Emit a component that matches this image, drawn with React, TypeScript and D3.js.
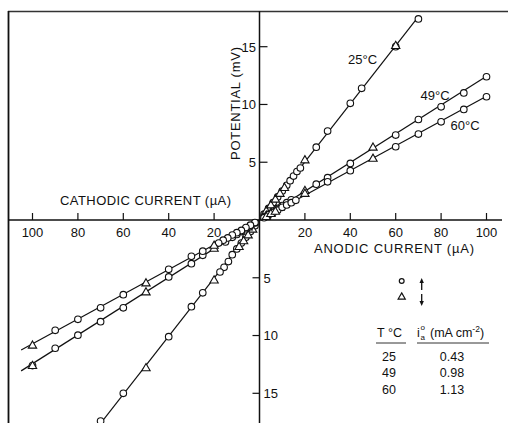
import React from "react";
import * as d3 from "d3";

// Polarization data: current I (µA, cathodic negative) vs potential E (mV).
// "up" = increasing sweep (circles), "down" = decreasing sweep (triangles).
const temps = ["25", "49", "60"];

const up25: [number, number][] = [
  [2, 0.5], [4, 1.0], [6, 1.5], [8, 2.0], [10, 2.5], [12, 3.0], [13.5, 3.4], [15, 3.8],
  [16.5, 4.2], [18, 4.5], [25, 6.3], [30, 7.7], [40, 10.1], [45, 11.4], [60, 15.0], [70, 17.4],
  [-2, -0.5], [-4, -1.0], [-6, -1.5], [-8, -2.0], [-10, -2.5], [-12, -3.0], [-13.7, -3.6],
  [-15.6, -4.1], [-17.4, -4.5], [-25, -6.3], [-30, -7.5], [-40, -10.1], [-60, -15.0], [-70, -17.4],
];
const down25: [number, number][] = [
  [3, 0.8], [5, 1.3], [7, 1.8], [9, 2.3], [11, 2.8], [20, 5.2], [60, 15.1],
  [-3, -0.8], [-5, -1.3], [-7, -1.8], [-9, -2.3], [-20, -5.2], [-50, -12.8],
];

const up49: [number, number][] = [
  [2, 0.3], [4, 0.5], [6, 0.75], [8, 1.0], [10, 1.25], [12, 1.5], [14, 1.75], [25, 3.1],
  [30, 3.66], [40, 4.9], [60, 7.35], [70, 8.7], [80, 9.8], [90, 11.0], [100, 12.4],
  [-2, -0.25], [-4, -0.5], [-6, -0.75], [-8, -1.0], [-10, -1.25], [-12, -1.5], [-15, -1.9],
  [-25, -3.06], [-30, -3.78], [-40, -4.93], [-60, -7.6], [-70, -8.8], [-80, -9.97],
  [-90, -11.1], [-100, -12.6],
];
const down49: [number, number][] = [
  [3, 0.4], [5, 0.6], [7, 0.9], [9, 1.1], [20, 2.55], [50, 6.3],
  [-5, -0.6], [-20, -2.45], [-50, -6.23], [-100, -12.6],
];

const up60: [number, number][] = [
  [2, 0.2], [4, 0.45], [6, 0.65], [8, 0.85], [10, 1.1], [12, 1.3], [14, 1.5], [16, 1.7],
  [30, 3.3], [40, 4.27], [60, 6.34], [70, 7.44], [80, 8.5], [90, 9.57], [100, 10.67],
  [-2, -0.22], [-4, -0.45], [-6, -0.65], [-8, -0.9], [-10, -1.1], [-12, -1.3], [-14, -1.55],
  [-16, -1.75], [-18, -2.0], [-25, -2.7], [-30, -3.14], [-40, -4.27], [-60, -6.46],
  [-70, -7.6], [-80, -8.6], [-90, -9.55],
];
const down60: [number, number][] = [
  [3, 0.3], [5, 0.55], [7, 0.75], [20, 2.3], [50, 5.33],
  [-20, -2.2], [-50, -5.45], [-100, -10.84],
];

// Range over which each fitted line is drawn (µA)
const lineExtent: Record<string, [number, number]> = {
  "25": [-80, 70],
  "49": [-105, 100],
  "60": [-105, 100],
};

const xTicks = [20, 40, 60, 80, 100];
const yTicks = [5, 10, 15];

const tableRows = [
  ["25", "0.43"],
  ["49", "0.98"],
  ["60", "1.13"],
];

const W = 508;
const H = 423;
const FONT = "'Liberation Sans', Arial, sans-serif";

const x = d3.scaleLinear().domain([0, 100]).range([259.5, 486.5]);
const y = d3.scaleLinear().domain([0, 15]).range([220, 46.7]);

// Least-squares slope through the origin
function slopeOf(pts: [number, number][]) {
  const sxy = d3.sum(pts, (p) => p[0] * p[1]);
  const sxx = d3.sum(pts, (p) => p[0] * p[0]);
  return sxy / sxx;
}

const seriesUp: Record<string, [number, number][]> = { "25": up25, "49": up49, "60": up60 };
const seriesDown: Record<string, [number, number][]> = { "25": down25, "49": down49, "60": down60 };

const tri = d3.symbol().type(d3.symbolTriangle).size(30)() as string;
const triSmall = d3.symbol().type(d3.symbolTriangle).size(22)() as string;

const lineGen = d3
  .line<[number, number]>()
  .x((d) => x(d[0]))
  .y((d) => y(d[1]));

function Arrow({ cx, y1, y2 }: { cx: number; y1: number; y2: number }) {
  // arrow from y1 to y2, head at y2
  const dir = y2 < y1 ? -1 : 1;
  const head = `M${cx},${y2} L${cx - 2.2},${y2 - dir * 5} L${cx + 2.2},${y2 - dir * 5} Z`;
  return (
    <g>
      <line x1={cx} y1={y1} x2={cx} y2={y2 - dir * 3} stroke="#111" strokeWidth={1.3} />
      <path d={head} fill="#111" />
    </g>
  );
}

export default function App() {
  return (
    <div style={{ position: "absolute", left: 0, top: 0 }}>
      <svg width={W} height={H} viewBox={`0 0 ${W} ${H}`} style={{ display: "block", background: "#fff" }}>
        <rect x={0} y={0} width={W} height={H} fill="#fff" />
        {/* frame */}
        <line x1={8} y1={11.5} x2={W} y2={11.5} stroke="#333" strokeWidth={1.4} />
        <line x1={8.5} y1={11} x2={8.5} y2={H} stroke="#111" strokeWidth={1.8} />

        {/* axes through origin */}
        <line x1={8} y1={y(0)} x2={W - 6} y2={y(0)} stroke="#111" strokeWidth={1.5} />
        <line x1={x(0)} y1={11} x2={x(0)} y2={H} stroke="#111" strokeWidth={1.5} />

        {/* x ticks (both directions), upward */}
        {xTicks.flatMap((t) => [t, -t]).map((t) => (
          <g key={`xt${t}`}>
            <line x1={x(t)} x2={x(t)} y1={y(0)} y2={y(0) - 7} stroke="#111" strokeWidth={1.2} />
            <text
              x={x(t)}
              y={236.5}
              textAnchor="middle"
              fontFamily={FONT}
              fontSize={13}
              fill="#111"
            >
              {Math.abs(t)}
            </text>
          </g>
        ))}

        {/* y ticks: positive to the right, negative to the left */}
        {yTicks.map((t) => (
          <g key={`yt${t}`}>
            <line x1={x(0)} x2={x(0) + 8} y1={y(t)} y2={y(t)} stroke="#111" strokeWidth={1.2} />
            <text x={256} y={y(t) + 4.8} textAnchor="end" fontFamily={FONT} fontSize={13} fill="#111">
              {t}
            </text>
            <line x1={x(0)} x2={x(0) - 7} y1={y(-t)} y2={y(-t)} stroke="#111" strokeWidth={1.2} />
            <text x={263.5} y={y(-t) + 4.8} textAnchor="start" fontFamily={FONT} fontSize={13} fill="#111">
              {t}
            </text>
          </g>
        ))}

        {/* axis titles */}
        <text x={60} y={205} fontFamily={FONT} fontSize={13} fill="#111" textLength={171} lengthAdjust="spacing">
          CATHODIC CURRENT (µA)
        </text>
        <text x={314} y={253} fontFamily={FONT} fontSize={13} fill="#111" textLength={160} lengthAdjust="spacing">
          ANODIC CURRENT (µA)
        </text>
        <text
          transform="translate(239.5,103.5) rotate(-90)"
          textAnchor="middle"
          fontFamily={FONT}
          fontSize={13}
          fill="#111"
          textLength={113}
          lengthAdjust="spacing"
        >
          POTENTIAL (mV)
        </text>

        {/* fitted lines */}
        {temps.map((t) => {
          const k = slopeOf([...seriesUp[t], ...seriesDown[t]]);
          const [a, b] = lineExtent[t];
          const pts: [number, number][] = [
            [a, k * a],
            [b, k * b],
          ];
          return <path key={`l${t}`} d={lineGen(pts) as string} fill="none" stroke="#111" strokeWidth={1.2} />;
        })}

        {/* markers */}
        {temps.map((t) => (
          <g key={`m${t}`}>
            {seriesUp[t].map((p, i) => (
              <circle
                key={`c${i}`}
                cx={x(p[0])}
                cy={y(p[1])}
                r={3.3}
                fill="#fff"
                stroke="#111"
                strokeWidth={1.1}
              />
            ))}
            {seriesDown[t].map((p, i) => (
              <path
                key={`t${i}`}
                d={tri}
                transform={`translate(${x(p[0])},${y(p[1]) + 0.5})`}
                fill="#fff"
                stroke="#111"
                strokeWidth={1.1}
              />
            ))}
          </g>
        ))}

        {/* temperature labels */}
        <text x={348} y={64} fontFamily={FONT} fontSize={13} fill="#111">25°C</text>
        <text x={420.5} y={100} fontFamily={FONT} fontSize={13} fill="#111">49°C</text>
        <text x={450.5} y={130} fontFamily={FONT} fontSize={13} fill="#111">60°C</text>

        {/* sweep-direction key */}
        <circle cx={401.7} cy={281} r={2.4} fill="#fff" stroke="#111" strokeWidth={1.2} />
        <Arrow cx={421.7} y1={290} y2={278} />
        <path d={triSmall} transform="translate(401.7,297)" fill="#fff" stroke="#111" strokeWidth={1.2} />
        <Arrow cx={421.7} y1={294} y2={306} />

        {/* exchange current table */}
        <text x={377} y={337} fontFamily={FONT} fontSize={12.5} fill="#111">T °C</text>
        <line x1={376} x2={406} y1={343} y2={343} stroke="#333" strokeWidth={1} />
        <text x={417} y={337} fontFamily={FONT} fontSize={12.5} fill="#111">i</text>
        <text x={420.5} y={330} fontFamily={FONT} fontSize={8} fill="#111">o</text>
        <text x={420.5} y={340} fontFamily={FONT} fontSize={8} fill="#111">a</text>
        <text x={430} y={337} fontFamily={FONT} fontSize={12.5} fill="#111">
          (mA cm
          <tspan fontSize={8.5} dy={-5}>-2</tspan>
          <tspan dy={5}>)</tspan>
        </text>
        <line x1={417} x2={489} y1={343} y2={343} stroke="#333" strokeWidth={1} />
        {tableRows.map((r, i) => (
          <g key={`row${i}`}>
            <text x={389} y={360.5 + i * 16.6} textAnchor="middle" fontFamily={FONT} fontSize={12.5} fill="#111">
              {r[0]}
            </text>
            <text x={452} y={360.5 + i * 16.6} textAnchor="middle" fontFamily={FONT} fontSize={12.5} fill="#111">
              {r[1]}
            </text>
          </g>
        ))}
      </svg>
    </div>
  );
}
